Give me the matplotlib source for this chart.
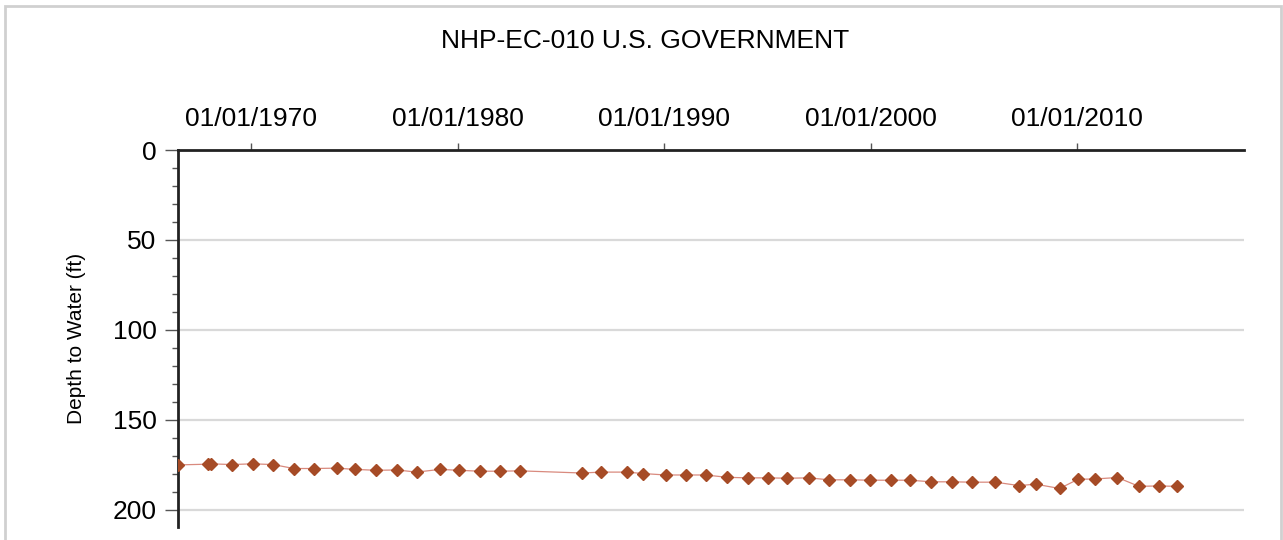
import matplotlib
matplotlib.use("Agg")
import matplotlib.pyplot as plt
import matplotlib.dates as mdates
from matplotlib.patches import Rectangle
import pandas as pd

# measurement dates and depth to water (ft)
dates = ["1966-06-10", "1967-11-20", "1968-01-10", "1969-01-20", "1970-01-20",
         "1971-01-20", "1972-01-20", "1973-01-15", "1974-02-15", "1975-01-15",
         "1976-01-20", "1977-01-15", "1978-01-05", "1979-02-15", "1980-01-25",
         "1981-01-20", "1982-01-10", "1983-01-05", "1986-01-05", "1986-12-15",
         "1988-03-10", "1988-12-25", "1990-01-25", "1991-01-20", "1992-01-05",
         "1993-01-20", "1994-01-15", "1995-01-10", "1995-12-20", "1997-01-01",
         "1998-01-01", "1999-01-10", "1999-12-25", "2000-12-20", "2001-12-01",
         "2002-12-15", "2003-12-10", "2004-12-05", "2006-01-20", "2007-03-15",
         "2008-01-01", "2009-03-01", "2010-01-20", "2010-11-25", "2011-12-20",
         "2013-01-01", "2013-12-15", "2014-11-01"]
depth = [175.0, 174.6, 174.4, 174.8, 174.4,
         174.8, 177.0, 177.0, 176.8, 177.5,
         178.0, 177.8, 179.0, 177.5, 178.0,
         178.5, 178.5, 178.3, 179.5, 179.0,
         179.0, 179.8, 180.6, 180.6, 180.6,
         181.9, 182.2, 182.2, 182.4, 182.2,
         183.3, 183.3, 183.5, 183.5, 183.5,
         184.4, 184.4, 184.6, 184.6, 186.5,
         185.7, 188.1, 183.0, 182.8, 182.0,
         186.9, 186.7, 186.9]

title = "NHP-EC-010 U.S. GOVERNMENT"
x_range = ["1966-06-10", "2018-02-05"]
y_range = [209.5, 0]

plt.rcParams['font.family'] = ['Liberation Sans', 'DejaVu Sans']

fig = plt.figure(figsize=(12.83, 5.4), dpi=100)
ax = fig.add_axes([0.1387, 0.0241, 0.9696 - 0.1387, 0.7222 - 0.0241])

# light frame round the whole picture
fig.patches.append(Rectangle((5 / 1283, -0.05), 1276 / 1283, 1.05 - 6 / 540,
                             transform=fig.transFigure, fill=False,
                             edgecolor='#d0d0d0', linewidth=2))

x = pd.to_datetime(dates)
ax.plot(x, depth, color='#d98a7e', linewidth=0.9, zorder=2)
ax.plot(x, depth, linestyle='none', marker='D', markersize=6,
        color='#a64b26', markeredgecolor='#a64b26', zorder=3)

ax.set_xlim(pd.to_datetime(x_range[0]), pd.to_datetime(x_range[1]))
ax.set_ylim(*y_range)

ax.xaxis.set_major_locator(mdates.YearLocator(10))
ax.xaxis.set_major_formatter(mdates.DateFormatter('%m/%d/%Y'))
ax.xaxis.tick_top()
ax.tick_params(axis='x', which='major', length=5, width=1, pad=9,
               labelsize=19, direction='out', color='#555555')

ax.set_yticks([0, 50, 100, 150, 200])
ax.set_yticks(range(10, 210, 10), minor=True)
ax.tick_params(axis='y', which='major', length=9.5, width=1, pad=6,
               labelsize=19, color='#555555')
ax.tick_params(axis='y', which='minor', length=4, width=1, color='#555555')

ax.yaxis.grid(True, color='#d9d9d9', linewidth=1.6)
ax.set_axisbelow(True)

for side in ['right', 'bottom']:
    ax.spines[side].set_visible(False)
for side in ['left', 'top']:
    ax.spines[side].set_linewidth(2)
    ax.spines[side].set_color('#222222')

ax.set_ylabel("Depth to Water (ft)", fontsize=15, labelpad=19)
fig.text(0.503, 1 - 41 / 540, title, ha='center', va='center', fontsize=19)

fig.savefig("out.png", dpi=100)
